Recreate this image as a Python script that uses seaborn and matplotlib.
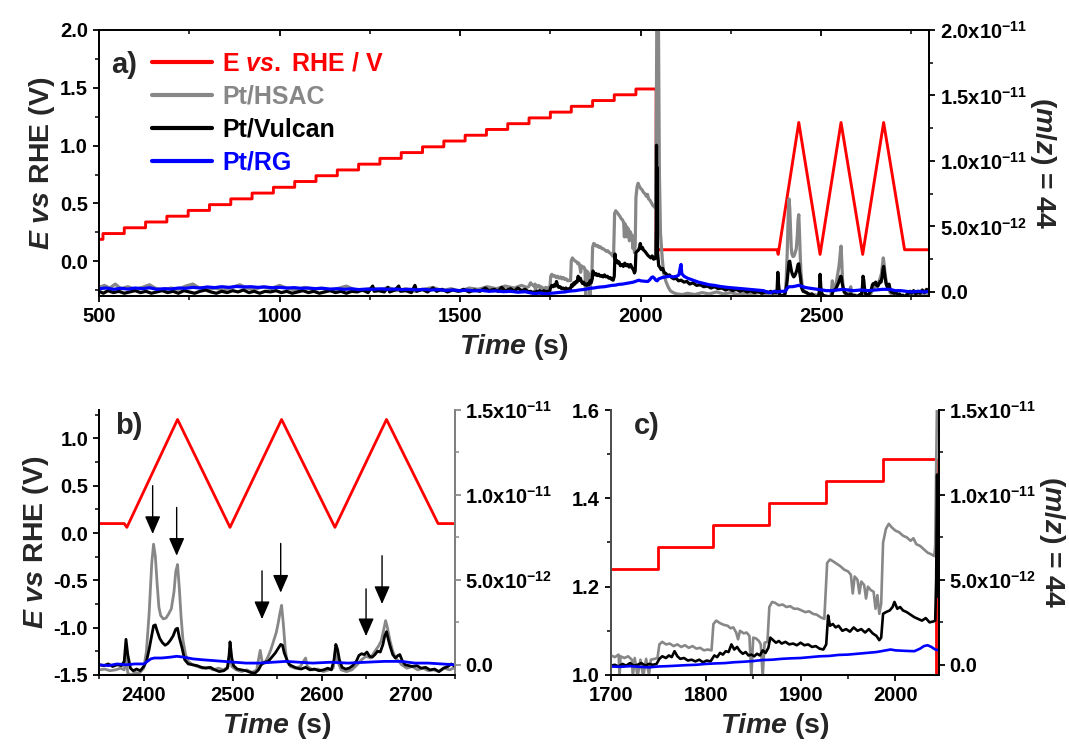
import numpy as np
import pandas as pd
import matplotlib
matplotlib.use("Agg")
import matplotlib.pyplot as plt
import seaborn as sns
from matplotlib.lines import Line2D
from matplotlib.ticker import MultipleLocator

# ---------------- data ----------------
# Potential programme: staircase (s, V) then CV triangles
E_step_times = [511, 570, 629, 688, 747, 806, 865, 924, 983, 1042, 1101, 1160, 1219,
                1278, 1337, 1396, 1455, 1514, 1573, 1632, 1691, 1750, 1808, 1867, 1927, 1987]
E_step_levels = [0.19, 0.24, 0.29, 0.34, 0.39, 0.44, 0.49, 0.54, 0.59, 0.64, 0.69, 0.74,
                 0.79, 0.84, 0.89, 0.94, 0.99, 1.04, 1.09, 1.14, 1.19, 1.24, 1.29, 1.34,
                 1.39, 1.44, 1.49]
E_start, E_stair_end = 500, 2043
E_cv_t = [2043, 2378, 2381, 2438, 2497, 2555, 2615, 2673, 2731, 2800]
E_cv_v = [0.10, 0.10, 0.06, 1.20, 0.06, 1.20, 0.06, 1.20, 0.10, 0.10]

# m/z = 44 ion currents, in units of 1e-12 A : (time s, value)
HSAC = [(500, 0.35), (515, 0.5), (530, 0.3), (545, 0.6), (560, 0.25), (580, 0.4), (600, 0.2),
        (620, 0.35), (640, 0.55), (655, 0.3), (675, 0.15), (700, 0.3), (720, 0.2), (740, 0.45),
        (760, 0.6), (775, 0.35), (800, 0.2), (820, 0.3), (845, 0.15), (870, 0.35), (890, 0.55),
        (910, 0.3), (930, 0.2), (955, 0.4), (975, 0.25), (1000, 0.5), (1020, 0.3), (1045, 0.15),
        (1070, 0.35), (1090, 0.2), (1115, 0.3), (1140, 0.1), (1160, 0.25), (1185, 0.45),
        (1205, 0.2), (1230, 0.1), (1255, 0.3), (1280, 0.15), (1300, 0.35), (1325, 0.1),
        (1350, 0.25), (1375, 0.05), (1400, 0.2), (1425, 0.35), (1450, 0.1), (1475, 0.25),
        (1500, 0.05), (1525, 0.3), (1550, 0.2), (1575, 0.4), (1600, 0.25), (1625, 0.45),
        (1650, 0.3), (1670, 0.5), (1685, 0.35), (1690, 0.4), (1695, 0.7), (1700, 0.55),
        (1704, 0.45), (1708, 0.6), (1709, -0.7), (1710, 0.5), (1714, 0.4), (1718, 0.5),
        (1722, 0.3), (1723, -0.7), (1725, 0.4), (1728, -0.7), (1731, 0.3), (1734, -0.7),
        (1737, 0.35), (1740, -0.6), (1742, 0.3), (1746, 0.35), (1749, 0.4), (1751, 1.2),
        (1754, 1.35), (1758, 1.2), (1762, 1.25), (1766, 1.1), (1770, 1.2), (1774, 1.05),
        (1778, 1.15), (1782, 1.0), (1786, 1.1), (1790, 0.95), (1794, 1.0), (1798, 0.85),
        (1802, 0.9), (1806, 0.85), (1808, 2.4), (1811, 2.6), (1815, 2.45), (1819, 2.35),
        (1823, 2.3), (1826, 2.15), (1829, 2.2), (1832, 1.9), (1834, 1.5), (1836, 2.0),
        (1840, 1.85), (1843, 1.9), (1846, 1.7), (1848, -0.7), (1850, 1.6), (1853, 1.55),
        (1856, 1.4), (1858, 1.2), (1860, -0.7), (1862, 1.3), (1865, 1.35), (1867, 3.4),
        (1870, 3.7), (1873, 3.65), (1877, 3.5), (1881, 3.55), (1885, 3.4), (1889, 3.45),
        (1893, 3.3), (1897, 3.3), (1901, 3.2), (1905, 3.1), (1909, 3.15), (1913, 3.0),
        (1917, 2.95), (1921, 2.8), (1925, 2.7), (1928, 6.0), (1931, 6.2), (1934, 6.1),
        (1938, 5.95), (1942, 5.8), (1946, 5.6), (1950, 5.5), (1953, 5.3), (1955, 4.2),
        (1957, 5.2), (1960, 5.0), (1962, 4.2), (1964, 4.9), (1967, 4.7), (1969, 3.9),
        (1971, 4.6), (1974, 4.4), (1977, 4.3), (1979, 3.3), (1981, 4.1), (1983, 3.0),
        (1985, 3.6), (1987, 7.2), (1990, 8.0), (1993, 8.3), (1996, 8.1), (2000, 7.9),
        (2004, 7.8), (2008, 7.6), (2012, 7.5), (2016, 7.3), (2019, 7.45), (2022, 7.1),
        (2026, 7.0), (2030, 6.8), (2034, 6.6), (2038, 6.5), (2041, 6.4), (2042, 7.0),
        (2044, 16.0), (2045, 22.0), (2049, 22.0), (2052, 9.0), (2055, 4.5), (2060, 2.5),
        (2064, 1.4), (2070, 0.8), (2076, 0.4), (2082, 0.1), (2090, -0.05), (2100, -0.15),
        (2115, -0.2), (2130, -0.1), (2150, -0.2), (2170, -0.05), (2190, -0.15), (2210, 0.0),
        (2230, -0.15), (2250, -0.05), (2270, -0.2), (2290, -0.1), (2310, -0.15),
        (2330, -0.05), (2345, -0.2), (2350, -0.3), (2356, -0.25), (2362, -0.35),
        (2368, -0.3), (2374, -0.2), (2378, -0.3), (2380, 0.6), (2382, -0.5), (2386, -0.6),
        (2390, -0.45), (2395, -0.5), (2400, -0.2), (2403, 0.8), (2406, 3.0), (2409, 6.0),
        (2411, 7.1), (2413, 6.4), (2415, 4.8), (2417, 3.4), (2419, 2.9), (2422, 2.7),
        (2425, 2.75), (2428, 3.0), (2431, 3.3), (2434, 4.3), (2436, 5.5), (2438, 5.9),
        (2440, 4.5), (2442, 2.8), (2444, 1.5), (2447, 0.6), (2450, 0.2), (2455, 0.0),
        (2460, -0.1), (2466, -0.2), (2472, -0.15), (2478, -0.3), (2484, -0.2), (2490, -0.3),
        (2495, -0.1), (2497, 0.9), (2499, -0.1), (2504, -0.3), (2510, -0.4), (2516, -0.3),
        (2522, -0.45), (2527, -0.3), (2529, 0.3), (2531, 0.85), (2533, 0.2), (2536, 0.1),
        (2540, 0.5), (2543, 0.9), (2546, 1.4), (2549, 1.9), (2551, 2.4), (2553, 3.0),
        (2555, 3.5), (2557, 2.4), (2559, 1.0), (2561, 0.2), (2565, -0.1), (2570, -0.2),
        (2576, -0.1), (2582, 0.4), (2584, -0.1), (2590, -0.3), (2596, -0.25), (2602, -0.4),
        (2608, -0.3), (2613, -0.2), (2616, 0.9), (2618, 0.2), (2622, -0.3), (2628, -0.4),
        (2634, -0.3), (2640, 0.0), (2645, 0.3), (2650, 0.5), (2655, 0.4), (2660, 0.8),
        (2664, 1.1), (2667, 1.4), (2670, 2.1), (2672, 2.6), (2674, 2.2), (2677, 1.4),
        (2680, 0.8), (2683, 0.4), (2687, 0.2), (2690, 0.0), (2696, -0.2), (2702, -0.1),
        (2708, -0.3), (2714, -0.2), (2720, -0.35), (2726, -0.3), (2732, -0.4), (2738, -0.2),
        (2744, -0.3), (2750, -0.15), (2760, -0.3), (2770, -0.1), (2780, -0.25),
        (2790, -0.05), (2800, -0.2)]

VULCAN = [(500, 0.05), (512, -0.1), (525, 0.1), (540, -0.05), (555, 0.05), (570, -0.1),
          (585, 0.0), (600, 0.1), (615, -0.05), (630, 0.05), (645, -0.1), (660, 0.0),
          (675, 0.1), (690, -0.05), (705, 0.05), (720, -0.1), (735, 0.1), (750, 0.0),
          (765, -0.1), (780, 0.05), (795, 0.15), (810, 0.0), (825, -0.1), (840, 0.05),
          (855, -0.05), (870, 0.1), (885, 0.0), (900, 0.15), (915, -0.05), (930, 0.05),
          (945, -0.1), (960, 0.05), (975, 0.0), (990, 0.1), (1005, -0.05), (1020, 0.05),
          (1035, -0.1), (1050, 0.0), (1065, 0.1), (1080, -0.05), (1095, 0.05), (1110, -0.1),
          (1125, 0.0), (1140, 0.1), (1155, -0.05), (1170, 0.05), (1185, -0.1), (1200, 0.05),
          (1215, 0.0), (1230, 0.15), (1245, -0.05), (1258, 0.45), (1262, 0.05), (1275, 0.1),
          (1290, 0.0), (1300, 0.35), (1305, 0.0), (1320, 0.15), (1330, 0.45), (1335, 0.05),
          (1350, 0.1), (1365, -0.05), (1375, 0.5), (1380, 0.05), (1395, 0.2), (1410, 0.0),
          (1425, 0.3), (1435, 0.05), (1450, 0.2), (1465, 0.0), (1480, 0.15), (1495, 0.05),
          (1510, 0.2), (1525, 0.0), (1540, 0.15), (1555, 0.05), (1570, 0.3), (1580, 0.1),
          (1595, 0.2), (1605, 0.05), (1615, 0.35), (1625, 0.1), (1640, 0.25), (1650, 0.05),
          (1660, 0.3), (1670, 0.1), (1680, 0.2), (1690, 0.0), (1695, 0.05), (1700, -0.05),
          (1704, 0.0), (1708, -0.1), (1712, 0.05), (1716, -0.05), (1720, 0.1), (1724, -0.05),
          (1728, 0.0), (1732, 0.1), (1736, -0.05), (1740, 0.05), (1744, 0.0), (1748, 0.05),
          (1751, 0.35), (1754, 0.5), (1758, 0.4), (1761, 0.55), (1764, 0.45), (1767, 0.8),
          (1770, 0.5), (1773, 0.35), (1777, 0.4), (1781, 0.25), (1785, 0.3), (1789, 0.2),
          (1793, 0.3), (1797, 0.15), (1801, 0.25), (1805, 0.2), (1809, 0.55), (1812, 0.45),
          (1815, 0.7), (1818, 0.6), (1821, 0.8), (1824, 0.75), (1827, 1.2), (1830, 0.9),
          (1833, 1.05), (1836, 0.8), (1839, 0.65), (1842, 0.75), (1845, 0.55), (1848, 0.6),
          (1851, 0.5), (1854, 0.65), (1857, 0.55), (1860, 0.85), (1863, 0.7), (1866, 1.0),
          (1868, 1.6), (1871, 1.45), (1874, 1.3), (1877, 1.4), (1880, 1.25), (1884, 1.35),
          (1888, 1.2), (1892, 1.25), (1896, 1.15), (1900, 1.3), (1904, 1.15), (1908, 1.2),
          (1912, 1.05), (1916, 1.1), (1920, 0.95), (1924, 0.9), (1927, 1.2), (1929, 2.9),
          (1931, 2.3), (1934, 2.4), (1937, 2.2), (1940, 2.3), (1944, 2.0), (1948, 2.1),
          (1952, 1.95), (1956, 2.2), (1960, 2.0), (1964, 2.1), (1968, 1.9), (1972, 2.1),
          (1976, 1.85), (1980, 1.7), (1983, 1.45), (1985, 1.6), (1987, 3.0), (1990, 3.1),
          (1994, 3.2), (1997, 3.4), (1999, 3.7), (2002, 3.3), (2005, 3.4), (2008, 3.2),
          (2012, 3.1), (2016, 2.95), (2020, 2.8), (2024, 2.7), (2028, 2.6), (2032, 2.75),
          (2036, 2.5), (2040, 2.55), (2042, 2.6), (2043, 5.0), (2044, 11.2), (2045, 4.0),
          (2046, 9.5), (2047, 3.0), (2050, 2.0), (2053, 1.9), (2057, 1.7), (2061, 1.8),
          (2065, 1.5), (2070, 1.4), (2075, 1.25), (2080, 1.3), (2086, 1.1), (2092, 1.0),
          (2098, 1.05), (2105, 0.85), (2112, 0.9), (2120, 0.75), (2128, 0.8), (2136, 0.6),
          (2145, 0.7), (2155, 0.5), (2165, 0.55), (2175, 0.4), (2185, 0.45), (2195, 0.3),
          (2205, 0.4), (2215, 0.25), (2225, 0.3), (2235, 0.15), (2245, 0.25), (2255, 0.1),
          (2265, 0.2), (2275, 0.05), (2285, 0.15), (2295, 0.0), (2305, 0.1), (2315, -0.05),
          (2325, 0.05), (2335, -0.1), (2345, 0.0), (2350, 0.0), (2355, -0.05), (2360, 0.05),
          (2365, -0.1), (2370, 0.0), (2375, -0.05), (2378, 0.2), (2380, 1.5), (2382, 0.6),
          (2385, -0.2), (2388, -0.35), (2392, -0.25), (2396, -0.35), (2400, -0.1),
          (2403, 0.2), (2406, 0.9), (2409, 1.75), (2411, 2.3), (2413, 2.35), (2415, 2.0),
          (2418, 1.55), (2421, 1.3), (2424, 1.15), (2427, 1.25), (2430, 1.45), (2433, 1.7),
          (2436, 2.1), (2438, 2.15), (2440, 1.6), (2443, 1.0), (2446, 0.3), (2450, 0.05),
          (2455, 0.0), (2460, -0.05), (2465, -0.15), (2470, -0.2), (2475, -0.15),
          (2480, -0.3), (2485, -0.4), (2490, -0.35), (2494, -0.2), (2496, 0.6), (2497, 1.35),
          (2499, 0.4), (2501, -0.05), (2505, -0.25), (2510, -0.3), (2515, -0.35),
          (2520, -0.45), (2525, -0.5), (2529, -0.3), (2532, 0.0), (2536, 0.15), (2540, 0.2),
          (2544, 0.45), (2548, 0.7), (2551, 0.95), (2554, 1.2), (2556, 1.15), (2558, 0.7),
          (2561, 0.3), (2564, 0.0), (2568, -0.1), (2572, -0.2), (2577, -0.25), (2582, -0.15),
          (2587, -0.3), (2592, -0.25), (2597, -0.35), (2602, -0.3), (2607, -0.2),
          (2611, -0.3), (2614, 0.3), (2616, 1.2), (2618, 0.9), (2620, 0.3), (2623, -0.15),
          (2627, -0.25), (2631, -0.2), (2635, -0.05), (2639, 0.2), (2642, 0.55), (2645, 0.65),
          (2648, 0.6), (2651, 0.75), (2654, 0.5), (2657, 0.45), (2660, 0.6), (2663, 0.8),
          (2666, 0.75), (2669, 1.2), (2671, 1.7), (2673, 1.95), (2675, 1.5), (2677, 1.1),
          (2680, 0.6), (2683, 0.4), (2686, 0.55), (2688, 0.6), (2691, 0.2), (2694, 0.0),
          (2698, -0.05), (2702, -0.1), (2707, -0.05), (2712, -0.2), (2717, -0.15),
          (2722, -0.3), (2727, -0.25), (2732, -0.4), (2737, -0.2), (2742, -0.1), (2746, 0.05),
          (2750, -0.1), (2756, 0.1), (2762, -0.15), (2768, 0.05), (2774, -0.1), (2780, 0.15),
          (2786, -0.05), (2792, 0.2), (2800, 0.0)]

RG = [(500, 0.25), (520, 0.3), (540, 0.2), (560, 0.28), (580, 0.22), (600, 0.3), (620, 0.25),
      (640, 0.32), (660, 0.2), (680, 0.25), (700, 0.22), (720, 0.3), (740, 0.28), (760, 0.35),
      (780, 0.3), (800, 0.38), (820, 0.33), (840, 0.4), (860, 0.35), (880, 0.42), (900, 0.38),
      (920, 0.4), (940, 0.35), (960, 0.38), (980, 0.32), (1000, 0.35), (1020, 0.3),
      (1040, 0.33), (1060, 0.28), (1080, 0.3), (1100, 0.25), (1120, 0.28), (1140, 0.22),
      (1160, 0.25), (1180, 0.2), (1200, 0.24), (1220, 0.18), (1240, 0.22), (1260, 0.2),
      (1280, 0.24), (1300, 0.2), (1320, 0.22), (1340, 0.18), (1360, 0.2), (1380, 0.16),
      (1400, 0.2), (1420, 0.15), (1440, 0.18), (1460, 0.12), (1480, 0.15), (1500, 0.1),
      (1520, 0.14), (1540, 0.08), (1560, 0.12), (1580, 0.05), (1600, 0.08), (1620, 0.02),
      (1640, 0.05), (1660, -0.02), (1680, 0.02), (1700, -0.1), (1710, -0.12), (1720, -0.08),
      (1730, -0.12), (1740, -0.15), (1750, -0.1), (1760, -0.08), (1770, -0.05),
      (1780, -0.02), (1790, 0.0), (1800, 0.05), (1810, 0.08), (1820, 0.1), (1830, 0.15),
      (1840, 0.18), (1850, 0.22), (1860, 0.28), (1870, 0.3), (1880, 0.35), (1890, 0.38),
      (1900, 0.4), (1910, 0.45), (1920, 0.5), (1930, 0.52), (1940, 0.58), (1950, 0.6),
      (1960, 0.65), (1970, 0.7), (1980, 0.75), (1990, 0.85), (1995, 0.9), (2000, 0.85),
      (2010, 0.82), (2020, 0.8), (2026, 0.95), (2030, 1.1), (2034, 1.15), (2038, 1.05),
      (2042, 0.9), (2046, 0.85), (2050, 1.0), (2060, 1.1), (2070, 1.15), (2080, 1.2),
      (2090, 1.15), (2100, 1.2), (2106, 1.3), (2110, 1.9), (2112, 2.1), (2114, 1.4),
      (2120, 1.2), (2130, 1.05), (2140, 0.95), (2150, 0.85), (2160, 0.75), (2175, 0.65),
      (2190, 0.55), (2205, 0.5), (2220, 0.42), (2240, 0.35), (2260, 0.3), (2280, 0.25),
      (2300, 0.2), (2320, 0.15), (2340, 0.1), (2350, 0.0), (2360, -0.05), (2370, 0.05),
      (2380, 0.0), (2390, 0.05), (2400, 0.05), (2404, 0.2), (2408, 0.35), (2412, 0.4),
      (2420, 0.4), (2430, 0.45), (2437, 0.5), (2445, 0.45), (2455, 0.35), (2465, 0.3),
      (2478, 0.25), (2490, 0.2), (2502, 0.15), (2515, 0.1), (2530, 0.1), (2545, 0.15),
      (2560, 0.2), (2575, 0.15), (2590, 0.1), (2610, 0.15), (2630, 0.1), (2650, 0.15),
      (2670, 0.2), (2690, 0.2), (2705, 0.1), (2720, 0.1), (2735, 0.05), (2750, 0.0),
      (2770, 0.05), (2785, 0.0), (2800, 0.05)]

series_names = ["Pt/HSAC", "Pt/Vulcan", "Pt/RG"]
series_colors = ["#878787", "#000000", "#0000ff"]
E_label = r"E $\mathit{vs.}$ RHE / V"
E_color = "#ff0000"

# arrows in panel b: time, start (E), tip (E)
arrow_t = [2410, 2437, 2533, 2554, 2650, 2668]
arrow_top = [0.50, 0.27, -0.40, -0.11, -0.59, -0.24]
arrow_tip = [-0.01, -0.24, -0.91, -0.63, -1.09, -0.75]

MS_UNIT = 1e-12

# ---------------- frames ----------------
E_t, E_v = [E_start], [E_step_levels[0]]
for tt, lev_prev, lev_new in zip(E_step_times, E_step_levels[:-1], E_step_levels[1:]):
    E_t += [tt, tt]
    E_v += [lev_prev, lev_new]
E_t.append(E_stair_end)
E_v.append(E_step_levels[-1])
E_t += E_cv_t
E_v += E_cv_v
df_E = pd.DataFrame({"t": E_t, "E": E_v})

frames = []
for name, pairs in zip(series_names, [HSAC, VULCAN, RG]):
    arr = np.array(pairs, dtype=float)
    frames.append(pd.DataFrame({"t": arr[:, 0], "I": arr[:, 1] * MS_UNIT, "series": name}))
df_ms = pd.concat(frames, ignore_index=True)
palette = dict(zip(series_names, series_colors))

# ---------------- style ----------------
sns.set_theme(style="ticks")
plt.rcParams.update({
    "font.family": ["Liberation Sans", "DejaVu Sans"],
    "font.weight": "bold",
    "axes.labelweight": "bold",
    "axes.unicode_minus": False,
    "mathtext.fontset": "custom",
    "mathtext.rm": "Liberation Sans:bold",
    "mathtext.bf": "Liberation Sans:bold",
    "mathtext.it": "Liberation Sans:italic:bold",
    "mathtext.default": "it",
    "axes.edgecolor": "black",
    "axes.linewidth": 1.3,
    "xtick.color": "black",
    "ytick.color": "black",
    "xtick.major.width": 1.3,
    "ytick.major.width": 1.3,
    "xtick.minor.width": 1.1,
    "ytick.minor.width": 1.1,
    "xtick.major.size": 4.5,
    "ytick.major.size": 4.5,
    "xtick.minor.size": 3.2,
    "ytick.minor.size": 3.2,
})
TICK_FS = 14.5
LAB_FS = 20.5

fig = plt.figure(figsize=(10.69, 7.46), dpi=100)
ax_a = fig.add_axes([0.0926, 0.6032, 0.7769, 0.3566])
ax_b = fig.add_axes([0.0929, 0.0952, 0.3327, 0.3552])
ax_c = fig.add_axes([0.5716, 0.0952, 0.3068, 0.3552])

right_labels = {0.0: "0.0", 5e-12: r"5.0x10$^{-12}$", 1e-11: r"1.0x10$^{-11}$",
                1.5e-11: r"1.5x10$^{-11}$", 2e-11: r"2.0x10$^{-11}$"}


def draw(ax, lw_e, lw_ms):
    sns.lineplot(data=df_E, x="t", y="E", color=E_color, lw=lw_e, sort=False,
                 estimator=None, ax=ax, legend=False)
    ax2 = ax.twinx()
    sns.lineplot(data=df_ms, x="t", y="I", hue="series", hue_order=series_names,
                 palette=palette, lw=lw_ms, sort=False, estimator=None, ax=ax2, legend=False)
    ax.set_xlabel(r"$\mathit{Time}$ (s)", fontsize=LAB_FS)
    ax.set_ylabel("")
    ax2.set_ylabel("")
    ax2.set_xlabel("")
    for a in (ax, ax2):
        a.tick_params(labelsize=TICK_FS)
    return ax2


def set_right(ax2, lo, hi, ticks):
    ax2.set_ylim(lo, hi)
    ax2.set_yticks(ticks)
    ax2.set_yticklabels([right_labels[t] for t in ticks])
    ax2.yaxis.set_minor_locator(MultipleLocator(2.5e-12))
    ax2.tick_params(axis="y", which="both", direction="out", pad=3)


# ----- panel a -----
ax2a = draw(ax_a, 2.1, 2.3)
ax_a.set_xlim(500, 2800)
ax_a.set_ylim(-0.3, 2.0)
ax_a.set_xticks([500, 1000, 1500, 2000, 2500])
ax_a.xaxis.set_minor_locator(MultipleLocator(250))
ax_a.yaxis.set_major_locator(MultipleLocator(0.5))
ax_a.yaxis.set_minor_locator(MultipleLocator(0.25))
ax_a.set_yticklabels([f"{v:.1f}" for v in ax_a.get_yticks()])
ax_a.tick_params(axis="both", which="both", direction="out")
# top ticks pointing inward, drawn by the twin's x axis
ax2a.xaxis.set_visible(True)
ax2a.set_xlabel("")
ax2a.tick_params(axis="x", which="both", bottom=False, top=True, direction="in",
                 labelbottom=False, labeltop=False)
set_right(ax2a, -0.31e-12, 2.0e-11, [0.0, 5e-12, 1e-11, 1.5e-11, 2e-11])
ax2a.set_ylabel(r"($\mathit{m/z}$) = 44", fontsize=LAB_FS, rotation=270, labelpad=22)
ax_a.set_ylabel(r"$\mathit{E}$ $\mathit{vs}$ RHE (V)", fontsize=LAB_FS, labelpad=2)
ax_a.text(0.015, 0.87, "a)", transform=ax_a.transAxes, fontsize=21, fontweight="bold",
          va="center", ha="left")
handles = [Line2D([], [], color=E_color, lw=3)] + \
          [Line2D([], [], color=c, lw=3) for c in series_colors]
leg = ax_a.legend(handles, [E_label] + series_names, loc="upper left",
                  bbox_to_anchor=(0.052, 0.955), frameon=False, fontsize=18,
                  handlelength=2.4, handletextpad=0.4, labelspacing=0.36, borderaxespad=0)
for txt, col in zip(leg.get_texts(), [E_color] + series_colors):
    txt.set_color(col)
    txt.set_fontweight("bold")

# ----- panel b -----
ax2b = draw(ax_b, 2.0, 2.0)
ax_b.set_xlim(2350, 2750)
ax_b.set_ylim(-1.5, 1.3)
ax_b.set_xticks([2400, 2500, 2600, 2700])
ax_b.xaxis.set_minor_locator(MultipleLocator(50))
ax_b.set_yticks([-1.5, -1.0, -0.5, 0.0, 0.5, 1.0])
ax_b.set_yticklabels(["-1.5", "-1.0", "-0.5", "0.0", "0.5", "1.0"])
ax_b.yaxis.set_minor_locator(MultipleLocator(0.25))
ax_b.tick_params(axis="both", which="both", direction="out")
set_right(ax2b, -0.6e-12, 1.5e-11, [0.0, 5e-12, 1e-11, 1.5e-11])
ax_b.set_ylabel(r"$\mathit{E}$ $\mathit{vs}$ RHE (V)", fontsize=LAB_FS, labelpad=2)
for a in (ax_b, ax2b):
    a.spines["top"].set_visible(False)
ax2b.spines["right"].set_color("#8c8c8c")
ax2b.tick_params(axis="y", which="both", color="#8c8c8c")
ax_b.text(0.045, 0.94, "b)", transform=ax_b.transAxes, fontsize=21, fontweight="bold",
          va="center", ha="left")
for tt, y0, y1 in zip(arrow_t, arrow_top, arrow_tip):
    ax_b.annotate("", xy=(tt, y1), xytext=(tt, y0),
                  arrowprops=dict(arrowstyle="-|>,head_length=0.55,head_width=0.24",
                                  color="black", lw=1.0, mutation_scale=20,
                                  shrinkA=0, shrinkB=0), zorder=10)

# ----- panel c -----
ax2c = draw(ax_c, 2.0, 1.9)
ax_c.set_xlim(1700, 2046)
ax_c.set_ylim(1.0, 1.6)
ax_c.set_xticks([1700, 1800, 1900, 2000])
ax_c.xaxis.set_minor_locator(MultipleLocator(50))
ax_c.set_yticks([1.0, 1.2, 1.4, 1.6])
ax_c.set_yticklabels(["1.0", "1.2", "1.4", "1.6"])
ax_c.yaxis.set_minor_locator(MultipleLocator(0.1))
ax_c.tick_params(axis="both", which="both", direction="out")
set_right(ax2c, -0.6e-12, 1.5e-11, [0.0, 5e-12, 1e-11, 1.5e-11])
ax2c.set_ylabel(r"($\mathit{m/z}$) = 44", fontsize=LAB_FS, rotation=270, labelpad=22)
for a in (ax_c, ax2c):
    a.spines["top"].set_visible(False)
ax2c.spines["left"].set_color("#555555")
ax_c.text(0.07, 0.94, "c)", transform=ax_c.transAxes, fontsize=21, fontweight="bold",
          va="center", ha="left")

fig.savefig("out.png", dpi=100)
